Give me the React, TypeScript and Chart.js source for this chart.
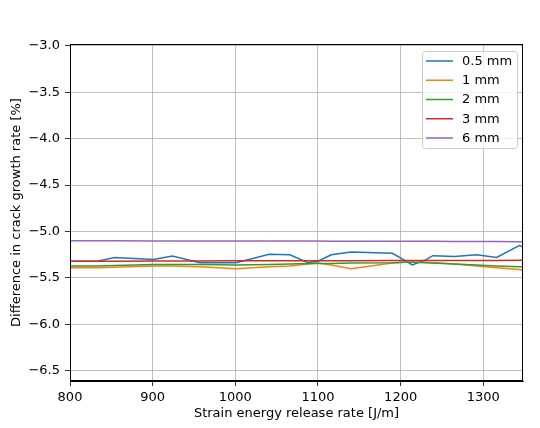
import { useEffect, useRef } from 'react';
import { Chart, registerables } from 'chart.js';

Chart.register(...registerables);

// strain energy release rate [J/m]
const strainRate = [800, 833, 854, 901, 924, 957, 1001, 1041, 1066, 1088, 1100, 1116, 1140, 1190, 1205, 1214, 1229, 1239, 1265, 1292, 1316, 1344, 1348];

// difference in crack growth rate [%] per crack length
const diff05mm = [-5.32, -5.32, -5.28, -5.30, -5.265, -5.335, -5.335, -5.245, -5.25, -5.335, -5.32, -5.25, -5.22, -5.235, -5.31, -5.36, -5.31, -5.26, -5.27, -5.25, -5.28, -5.15, -5.17];
const diff1mm = [-5.39, -5.39, -5.385, -5.37, -5.37, -5.38, -5.40, -5.38, -5.37, -5.35, -5.34, -5.36, -5.40, -5.34, -5.33, -5.33, -5.33, -5.335, -5.35, -5.37, -5.39, -5.41, -5.42];
const diff2mm = [-5.37, -5.37, -5.365, -5.355, -5.355, -5.355, -5.36, -5.355, -5.35, -5.345, -5.345, -5.345, -5.34, -5.335, -5.33, -5.33, -5.335, -5.34, -5.35, -5.36, -5.37, -5.38, -5.38];
const diff3mm = [-5.32, -5.32, -5.32, -5.318, -5.318, -5.318, -5.316, -5.316, -5.315, -5.315, -5.315, -5.315, -5.314, -5.313, -5.313, -5.313, -5.312, -5.312, -5.312, -5.311, -5.311, -5.31, -5.31];
const diff6mm = [-5.10, -5.10, -5.10, -5.101, -5.101, -5.101, -5.102, -5.102, -5.103, -5.103, -5.103, -5.104, -5.104, -5.105, -5.105, -5.106, -5.106, -5.106, -5.107, -5.108, -5.108, -5.109, -5.11];

const seriesLabels = ['0.5 mm', '1 mm', '2 mm', '3 mm', '6 mm'];
const seriesValues = [diff05mm, diff1mm, diff2mm, diff3mm, diff6mm];
const seriesColors = ['#1f77b4', '#ff7f0e', '#2ca02c', '#d62728', '#9467bd'];

const xTicks = [800, 900, 1000, 1100, 1200, 1300];
const yTicks = [-6.5, -6.0, -5.5, -5.0, -4.5, -4.0, -3.5, -3.0];

const FONT = 'DejaVu Sans';
const SIZE = 13;

// frame round the axes + legend box in the upper right (matplotlib look)
const frameLegendPlugin = {
  id: 'frameLegend',
  afterDraw(chart: any) {
    const { ctx, chartArea: a } = chart;
    ctx.save();
    ctx.strokeStyle = '#000';
    ctx.lineWidth = 1;
    ctx.strokeRect(Math.round(a.left) + 0.5, Math.round(a.top) + 0.5, Math.round(a.right - a.left) - 1, Math.round(a.bottom - a.top) - 1);

    // legend
    const bx = 422, by = 51, bw = 95, bh = 97;
    ctx.beginPath();
    ctx.roundRect(bx + 0.5, by + 0.5, bw, bh, 3);
    ctx.fillStyle = 'rgba(255,255,255,0.8)';
    ctx.fill();
    ctx.strokeStyle = '#cccccc';
    ctx.stroke();

    ctx.font = `${SIZE}px "${FONT}"`;
    ctx.textBaseline = 'middle';
    ctx.textAlign = 'left';
    chart.data.datasets.forEach((ds: any, i: number) => {
      const y = 61 + i * 19.25;
      ctx.strokeStyle = ds.borderColor;
      ctx.lineWidth = 1.5;
      ctx.beginPath();
      ctx.moveTo(426, y);
      ctx.lineTo(453, y);
      ctx.stroke();
      ctx.fillStyle = '#000';
      ctx.fillText(ds.label, 462, y + 0.5);
    });
    ctx.restore();
  },
};

const minus = (v: number) => v.toFixed(1).replace('-', '\u2212');

export default function App() {
  const canvasRef = useRef<HTMLCanvasElement>(null);

  useEffect(() => {
    if (!canvasRef.current) return;
    Chart.defaults.font.family = FONT;
    Chart.defaults.font.size = SIZE;
    Chart.defaults.color = '#000';

    const chart = new Chart(canvasRef.current, {
      type: 'line',
      data: {
        datasets: seriesLabels.map((label, i) => ({
          label,
          data: strainRate.map((x, j) => ({ x, y: seriesValues[i][j] })),
          borderColor: seriesColors[i],
          backgroundColor: seriesColors[i],
          borderWidth: 1.5,
          pointRadius: 0,
          tension: 0,
          order: seriesLabels.length - i,
        })),
      },
      options: {
        responsive: false,
        animation: false,
        events: [],
        layout: { padding: { top: 44, right: 17, left: 0, bottom: 0 } },
        plugins: { legend: { display: false }, tooltip: { enabled: false } },
        scales: {
          x: {
            type: 'linear',
            min: 800,
            max: 1348,
            afterBuildTicks: (s: any) => { s.ticks = xTicks.map((value) => ({ value })); },
            afterFit: (s: any) => { s.height = 47; },
            ticks: { autoSkip: false, maxRotation: 0, padding: 4, callback: (v: any) => String(v) },
            grid: { color: '#b0b0b0', lineWidth: 0.8, tickColor: '#000', tickLength: 5 },
            border: { color: '#000', width: 1 },
            title: { display: true, text: 'Strain energy release rate [J/m]', padding: { top: 0, bottom: 7 } },
          },
          y: {
            type: 'linear',
            min: -6.61,
            max: -2.98,
            afterBuildTicks: (s: any) => { s.ticks = yTicks.map((value) => ({ value })); },
            afterFit: (s: any) => { s.width = 70; },
            ticks: { autoSkip: false, padding: 5, callback: (v: any) => minus(Number(v)) },
            grid: { color: '#b0b0b0', lineWidth: 0.8, tickColor: '#000', tickLength: 5 },
            border: { color: '#000', width: 1 },
            title: { display: true, text: 'Difference in crack growth rate [%]', padding: { top: 9, bottom: 0 } },
          },
        },
      },
      plugins: [frameLegendPlugin],
    });
    return () => chart.destroy();
  }, []);

  return (
    <div style={{ position: 'fixed', left: 0, top: 0, width: 540, height: 428, background: '#fff' }}>
      <canvas ref={canvasRef} width={540} height={428} style={{ width: 540, height: 428 }} />
    </div>
  );
}
